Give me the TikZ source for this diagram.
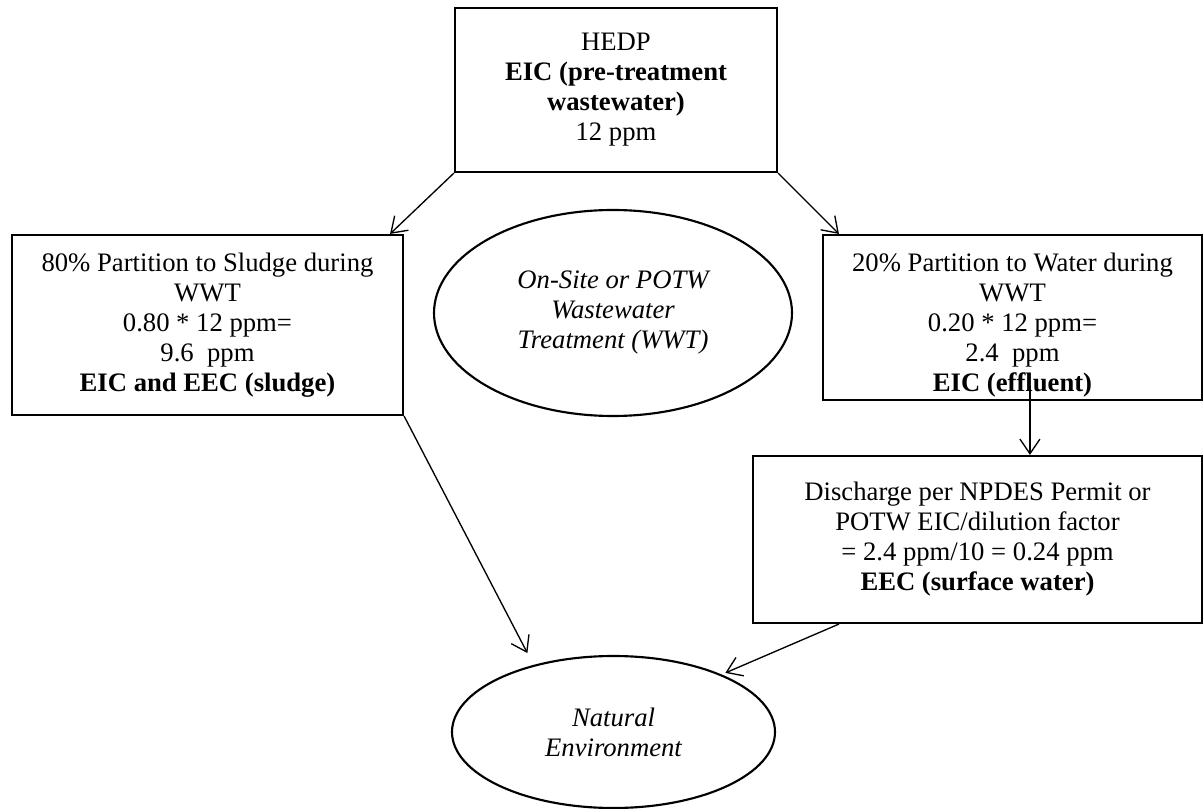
\documentclass[tikz,border=0pt]{standalone}
\usepackage{fontspec}
\setmainfont{Liberation Serif}
\usetikzlibrary{shapes.geometric,arrows.meta,calc}

\begin{document}
\begin{tikzpicture}[x = 0.75pt, y = -0.75pt]
	\tikzstyle{every node} = [draw = black, line width = 1.6pt, align = center, inner sep = 0pt, font = \fontsize{20}{22.5}\selectfont]
	\tikzstyle{box} = [rectangle]
	\tikzstyle{oval} = [ellipse, font = \fontsize{20}{22.5}\selectfont\itshape]
	\tikzstyle{arr} = [line width = 1pt, -{Straight Barb[length = 11pt, width = 15pt]}]

\useasboundingbox (0, 0) rectangle (1204, 809);

\node[box, minimum width = 241.5pt, minimum height = 123pt] (1) at (616, 90) {HEDP\\ \textbf{EIC (pre-treatment}\\ \textbf{wastewater)}\\ 12 ppm};
\node[box, minimum width = 293.25pt, minimum height = 135pt] (2) at (207.5, 325) {80\% Partition to Sludge during\\ WWT\\ 0.80 * 12 ppm=\\ 9.6~~ppm\\ \textbf{EIC and EEC (sludge)}};
\node[box, minimum width = 284.25pt, minimum height = 123.75pt] (3) at (1012.5, 317.5) {\rule{0pt}{25.6pt}20\% Partition to Water during\\ WWT\\ 0.20 * 12 ppm=\\ 2.4~~ppm\\ \textbf{EIC (effluent)}};
\node[box, minimum width = 336.75pt, minimum height = 125.25pt] (4) at (977.5, 539.5) {Discharge per NPDES Permit or\\ POTW EIC/dilution factor\\ = 2.4 ppm/10 = 0.24 ppm\\ \textbf{EEC (surface water)}};
\node[oval, minimum width = 268.5pt, minimum height = 154.5pt] (5) at (613, 313) {On-Site or POTW\\ Wastewater\\ Treatment (WWT)};
\node[oval, minimum width = 242.25pt, minimum height = 114pt] (6) at (613.5, 732) {Natural\\ Environment};

	\coordinate (7) at ($(3.south west) + (208, -15)$);

	\path[draw, arr] (1.south west) -- ($(2.north east) + (-14, 0)$);
	\path[draw, arr] (1.south east) -- ($(3.north west) + (17, 0)$);
	\path[draw, arr] (7) -- (7 |- 4.north);
	\path[draw, arr, shorten >= 10pt] (2.south east) -- (6.140);
	\path[draw, arr, shorten >= 3pt] ($(4.south west) + (87, 0)$) -- (6.28);
\end{tikzpicture}
\end{document}
